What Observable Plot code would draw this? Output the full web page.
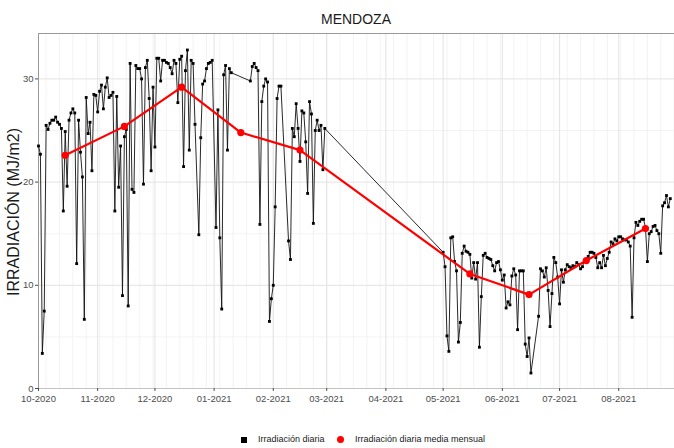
<!DOCTYPE html>
<html>
<head>
<meta charset="utf-8">
<script src="https://cdn.jsdelivr.net/npm/d3@7"></script>
<script src="https://cdn.jsdelivr.net/npm/@observablehq/plot@0.6"></script>
<style>
  body { margin: 0; background: #fff; font-family: "Liberation Sans", Arial, sans-serif; }
  #wrap { position: relative; width: 674px; height: 448px; overflow: hidden; background: #fff; }
  #chart { position: absolute; left: 0; top: 0; }
  #title { position: absolute; left: 38px; width: 636px; top: 11px; text-align: center; font-size: 14px; color: #1a1a1a; }
  #ylab { position: absolute; left: 14px; top: 212px; transform: translate(-50%, -50%) rotate(-90deg); white-space: nowrap; font-size: 16px; color: #1a1a1a; }
  .lg { position: absolute; font-size: 9px; color: #1a1a1a; white-space: nowrap; }
</style>
</head>
<body>
<div id="wrap">
  <div id="chart"></div>
  <div id="title">MENDOZA</div>
  <div id="ylab">IRRADIACIÓN (MJ/m2)</div>
  <div class="lg" style="left:241px;top:437px;width:6px;height:6px;background:#000;"></div>
  <div class="lg" style="left:258px;top:434px;">Irradiación diaria</div>
  <div class="lg" style="left:337px;top:436px;width:7px;height:7px;border-radius:50%;background:#ff0000;"></div>
  <div class="lg" style="left:355px;top:434px;">Irradiación diaria media mensual</div>
</div>
<script>
// ---- Daily irradiation (MJ/m2), consecutive days from each start date; null = no reading ----
const daily1Start = "2020-10-01";
const daily1Values = [
  23.5, 22.7, 3.4, 7.5, 25.5, 25.1, 25.7, 26.0, 26.0, 26.3,
  25.8, 25.6, 25.2, 17.2, 24.9, 19.6, 26.0, 26.7, 27.1, 26.7,
  12.1, 26.0, 22.9, 20.5, 6.7, 28.2, 24.7, 25.8, 21.1, 28.5,
  28.4, 26.8, 28.8, 29.4, 27.1, 29.2, 30.1, 28.2, 28.4, 28.7,
  17.2, 28.3, 19.5, 23.5, 9.0, 24.4, 25.1, 8.0, 31.5, 19.3,
  19.0, 31.3, 31.0, 31.0, 30.0, 19.8, 31.1, 31.8, 28.1, 21.1,
  29.2, 23.4, 32.0, 32.0, 29.8, 31.8, 31.8, 31.6, 31.5, 31.1,
  30.5, 31.8, 31.5, 27.7, 31.9, 32.2, 21.5, 30.8, 32.8, 23.1,
  31.8, 31.5, 25.6, null, 14.9, 24.3, 29.5, 29.8, 31.0, 31.5,
  31.6, 31.8, null, 15.6, 27.0, 14.6, 7.7, 30.4, 31.3, 23.1,
  31.0, 30.6
];
const daily2Start = "2021-01-20";
const daily2Values = [
  29.8, 31.2, 31.5, 31.1, 30.8, 15.9, 27.8, 29.3, 30.0, 29.7,
  6.5, 8.7, 10.0, 17.6, 28.1, 29.3, 29.3, null, null, null,
  14.3, 12.5, 25.2, 24.4, 27.6, 25.2, 22.0, 26.9, 26.7, 23.9,
  18.9, 27.8, 26.6, 16.0, 25.0, 26.0, 25.0, 25.5, 21.2, 25.2
];
const daily3Start = "2021-05-01";
const daily3Values = [
  13.2, 11.8, 5.1, 3.6, 14.6, 14.7, 12.3, 11.4, 4.5, 6.4,
  13.1, 13.8, 13.3, 13.2, 13.0, 10.7, 12.2, 10.6, 12.2, 4.0,
  8.9, 12.9, 13.1, 12.7, 12.6, 12.5, 11.9, 11.4, 12.2, 12.3,
  11.5, 10.5, 11.0, 7.8, 8.4, 8.1, 10.9, 11.6, 11.0, 5.7,
  11.4, 11.4, 11.4, 4.3, 3.1, 4.9, 1.5, null, null, null,
  7.0, 11.6, 11.4, 10.8, 11.7, 9.5, 6.0, 9.2, 12.7, 12.2,
  10.8, 8.2, 11.5, 10.3, 11.5, 12.0, 11.8, 11.7, 11.9, 11.8,
  12.2, 12.0, 11.6, 11.8, 12.4, 12.4, 12.8, 13.2, 13.2, 13.1,
  12.7, 11.7, 12.2, 11.7, 12.9, 11.9, 12.6, 13.2, 14.2, 14.0,
  14.5, 14.3, 14.7, 14.7, 14.5, 14.4, 14.4, 14.2, 13.8, 6.9,
  14.6, 16.1, 15.8, 16.2, 16.4, 16.4, 15.6, 12.3, 15.0, 15.2,
  15.7, 15.8, 15.3, 15.0, 13.1, 17.7, 18.0, 18.7, 17.6, 18.4
];

// ---- Monthly mean (plotted on the 15th) ----
const monthDates = ["2020-10-15", "2020-11-15", "2020-12-15", "2021-01-15", "2021-02-15",
                    "2021-05-15", "2021-06-15", "2021-07-15", "2021-08-15"];
const monthValues = [22.6, 25.4, 29.2, 24.8, 23.1, 11.1, 9.1, 12.4, 15.5];

// ---- Axes ----
const xTickDates = ["2020-10-01", "2020-11-01", "2020-12-01", "2021-01-01", "2021-02-01", "2021-03-01",
                    "2021-04-01", "2021-05-01", "2021-06-01", "2021-07-01", "2021-08-01"];
const xDomain = ["2020-10-01T00:00Z", "2021-08-30T05:00Z"];
const yTicks = [0, 10, 20, 30];
const yMinorTicks = [5, 15, 25];
const yDomain = [0, 34.4];

// ---- Build tables ----
function seg(start, values) {
  const s = new Date(start);
  return values.map((v, i) => ({date: d3.utcDay.offset(s, i), value: v})).filter(d => d.value != null);
}
const daily = [...seg(daily1Start, daily1Values), ...seg(daily2Start, daily2Values), ...seg(daily3Start, daily3Values)];
const monthly = monthDates.map((d, i) => ({date: new Date(d), value: monthValues[i]}));
const xTicks = xTickDates.map(d => new Date(d));
const x0 = new Date(xDomain[0]), x1 = new Date(xDomain[1]);
const weekLines = d3.utcMonday.range(x0, x1);

const chart = Plot.plot({
  width: 674,
  height: 412,
  marginTop: 33,
  marginLeft: 38,
  marginRight: 0,
  marginBottom: 24,
  style: {fontFamily: "'Liberation Sans', Arial, sans-serif", fontSize: "9.5px", background: "white", overflow: "visible"},
  x: {type: "utc", domain: [x0, x1]},
  y: {domain: yDomain},
  marks: [
    Plot.ruleX(weekLines, {stroke: "#eeeeee", strokeWidth: 0.7}),
    Plot.ruleY(yMinorTicks, {stroke: "#eeeeee", strokeWidth: 0.7}),
    Plot.ruleX(xTicks, {stroke: "#e3e3e3", strokeWidth: 1}),
    Plot.ruleY(yTicks, {stroke: "#e3e3e3", strokeWidth: 1}),
    Plot.ruleY([yDomain[1]], {stroke: "#999999", strokeWidth: 1}),
    Plot.ruleX([x0], {stroke: "#999999", strokeWidth: 1}),
    Plot.ruleY([0], {stroke: "#bbbbbb", strokeWidth: 0.8}),
    Plot.line(daily, {x: "date", y: "value", stroke: "#111", strokeWidth: 0.9}),
    Plot.dot(daily, {x: "date", y: "value", symbol: "square", r: 1.6, fill: "#000", stroke: "none"}),
    Plot.line(monthly, {x: "date", y: "value", stroke: "#ff0000", strokeWidth: 2.2}),
    Plot.dot(monthly, {x: "date", y: "value", r: 3.6, fill: "#ff0000", stroke: "none"}),
    Plot.axisX({ticks: xTicks, tickFormat: d3.utcFormat("%m-%Y"), tickSize: 3, tickPadding: 4, color: "#4d4d4d", label: null}),
    Plot.axisY({ticks: yTicks, tickSize: 3, tickPadding: 2, color: "#4d4d4d", label: null})
  ]
});
document.getElementById("chart").appendChild(chart);
</script>
</body>
</html>
